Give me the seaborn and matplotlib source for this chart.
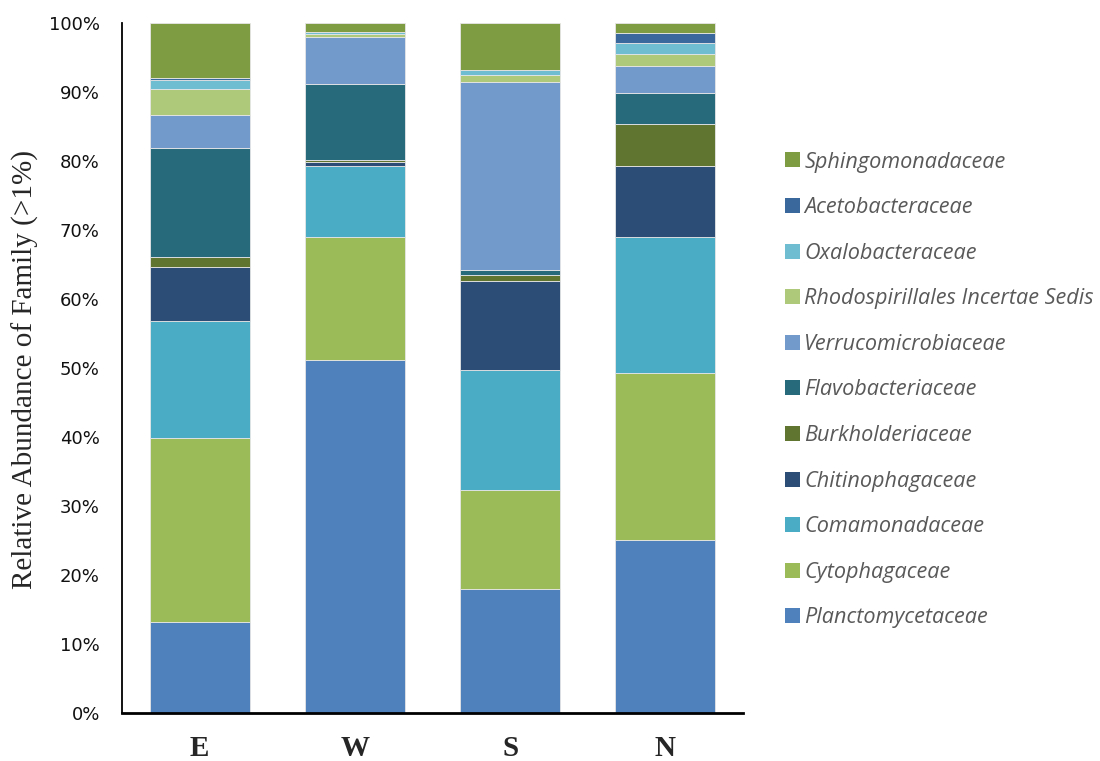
import matplotlib
matplotlib.use("Agg")
import matplotlib.pyplot as plt
from matplotlib.patches import Patch
from matplotlib.ticker import PercentFormatter
import seaborn as sns
import pandas as pd
import numpy as np

# Sampling sites
sites = ["E", "W", "S", "N"]

# Family names, bottom of the stack first
families = [
    "Planctomycetaceae",
    "Cytophagaceae",
    "Comamonadaceae",
    "Chitinophagaceae",
    "Burkholderiaceae",
    "Flavobacteriaceae",
    "Verrucomicrobiaceae",
    "Rhodospirillales Incertae Sedis",
    "Oxalobacteraceae",
    "Acetobacteraceae",
    "Sphingomonadaceae",
]

# Relative abundance (%) of each family per site
planctomycetaceae = [13.2, 51.2, 17.9, 25.0]
cytophagaceae = [26.6, 17.7, 14.4, 24.2]
comamonadaceae = [17.0, 10.3, 17.5, 19.7]
chitinophagaceae = [7.9, 0.6, 12.9, 10.3]
burkholderiaceae = [1.35, 0.4, 0.8, 6.1]
flavobacteriaceae = [15.9, 11.0, 0.8, 4.45]
verrucomicrobiaceae = [4.7, 6.8, 27.3, 3.9]
rhodospirillales = [3.77, 0.4, 1.0, 1.8]
oxalobacteraceae = [1.4, 0.3, 0.7, 1.55]
acetobacteraceae = [0.2, 0.0, 0.0, 1.5]
sphingomonadaceae = [8.0, 1.3, 6.8, 1.45]

colors = [
    "#4F81BD", "#9BBB59", "#4BACC6", "#2C4D75", "#5F7530",
    "#276A7C", "#729ACA", "#AFC97A", "#6FBDD1", "#3A679C", "#7E9C42",
]

values = [
    planctomycetaceae, cytophagaceae, comamonadaceae, chitinophagaceae,
    burkholderiaceae, flavobacteriaceae, verrucomicrobiaceae,
    rhodospirillales, oxalobacteraceae, acetobacteraceae, sphingomonadaceae,
]

df = pd.DataFrame(
    [(s, f, v[i]) for f, v in zip(families, values) for i, s in enumerate(sites)],
    columns=["site", "family", "abundance"],
)
# Normalise each site to 100 %
df["abundance"] = df["abundance"] / df.groupby("site")["abundance"].transform("sum") * 100

sns.set_style("white")

fig = plt.figure(figsize=(11, 7.61), dpi=100)
ax = fig.add_axes([0.1109, 0.0635, 0.5645, 0.9063])

bottom = pd.Series(0.0, index=sites)
for fam, col in zip(families, colors):
    sub = df[df["family"] == fam].set_index("site").loc[sites]
    sns.barplot(
        x=sub.index, y=sub["abundance"].values, ax=ax, color=col,
        width=0.645, bottom=bottom.values, edgecolor="#E6E6E6",
        linewidth=0.6, saturation=1, order=sites,
    )
    bottom = bottom + sub["abundance"]

ax.set_xlim(-0.5, 3.5)
ax.set_ylim(0, 100)
ax.set_yticks(np.arange(0, 101, 10))
ax.yaxis.set_major_formatter(PercentFormatter(decimals=0))
ax.tick_params(axis="y", length=0, pad=16, labelsize=13, labelcolor="#111111")
ax.tick_params(axis="x", length=0, pad=16)
for lab in ax.get_xticklabels():
    lab.set_fontfamily("Liberation Serif")
    lab.set_fontweight("bold")
    lab.set_fontsize(21)

ax.set_xlabel("")
ax.set_ylabel("Relative Abundance of Family (>1%)", family="Liberation Serif",
              fontsize=21)
ax.yaxis.set_label_coords(-0.133, 0.498)

for side in ["top", "right"]:
    ax.spines[side].set_visible(False)
ax.spines["left"].set_color("black")
ax.spines["left"].set_linewidth(1.3)
ax.spines["bottom"].set_color("black")
ax.spines["bottom"].set_linewidth(2.0)

handles = [Patch(facecolor=c, edgecolor="none") for c in colors][::-1]
labels = families[::-1]
leg = fig.legend(
    handles, labels, loc="upper left", bbox_to_anchor=(0.696, 0.8265),
    frameon=False, prop={"family": "Open Sans", "style": "italic", "size": 15.6},
    handlelength=0.68, handleheight=0.68, handletextpad=0.2, labelspacing=1.135,
)
for t in leg.get_texts():
    t.set_color("#595959")

fig.savefig("out.png", dpi=100)
